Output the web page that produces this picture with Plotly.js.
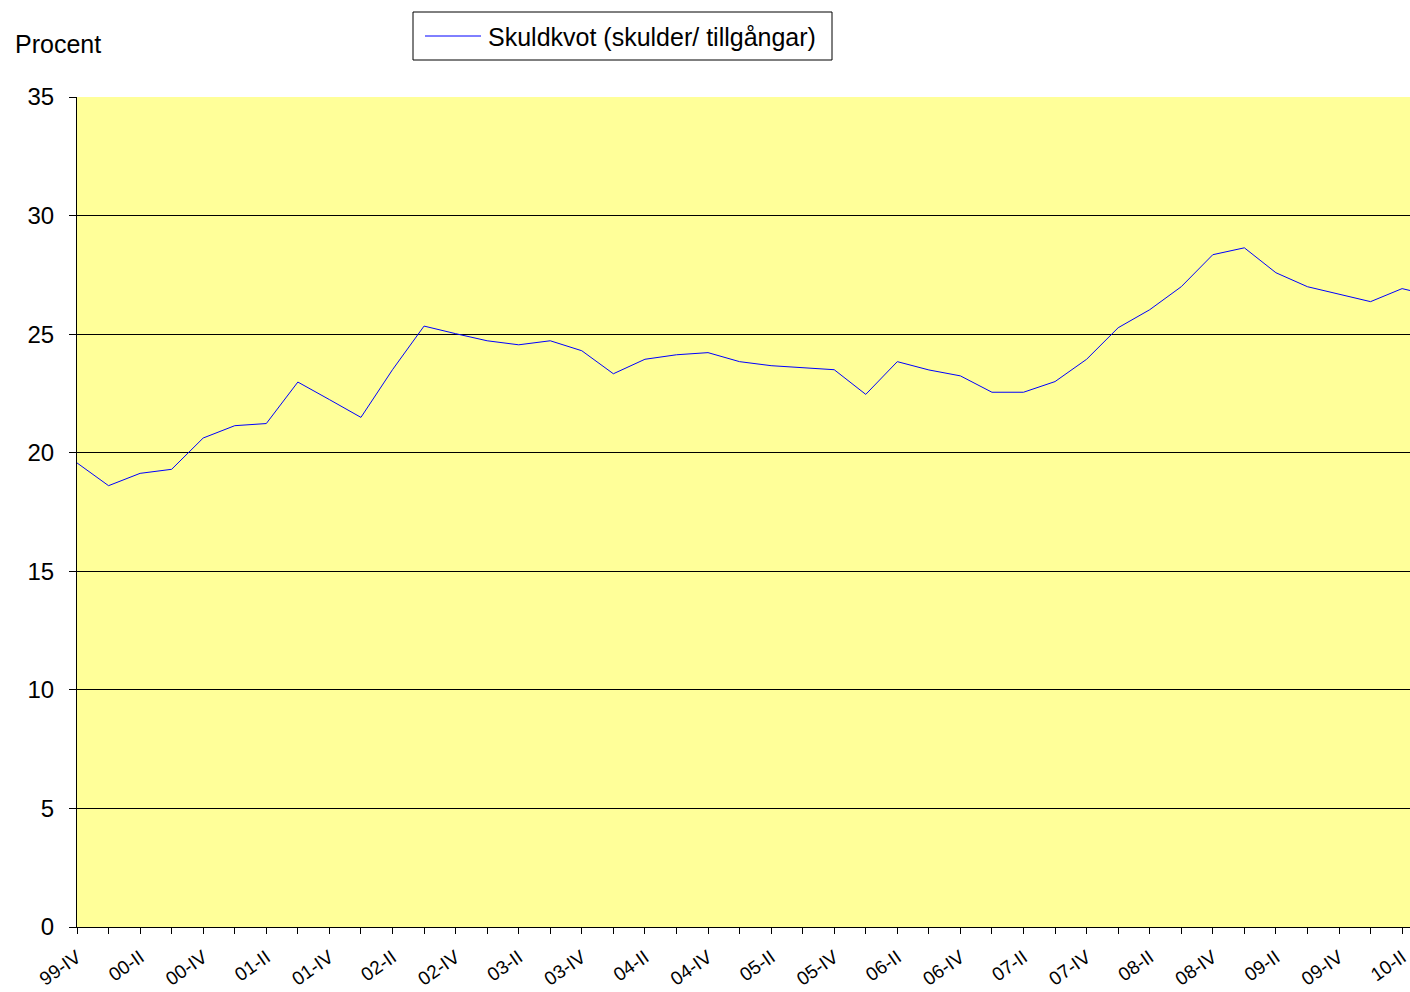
<!DOCTYPE html>
<html>
<head>
<meta charset="utf-8">
<script src="https://cdn.plot.ly/plotly-3.0.1.min.js"></script>
<style>html,body{margin:0;padding:0;background:#fff;}#chart{width:1410px;height:992px;}</style>
</head>
<body>
<div id="chart"></div>
<script>
// Quarters (99-IV ... 10-III)
const quarters = [
  "99-IV",
  "00-I","00-II","00-III","00-IV",
  "01-I","01-II","01-III","01-IV",
  "02-I","02-II","02-III","02-IV",
  "03-I","03-II","03-III","03-IV",
  "04-I","04-II","04-III","04-IV",
  "05-I","05-II","05-III","05-IV",
  "06-I","06-II","06-III","06-IV",
  "07-I","07-II","07-III","07-IV",
  "08-I","08-II","08-III","08-IV",
  "09-I","09-II","09-III","09-IV",
  "10-I","10-II","10-III"
];
// Skuldkvot (skulder/tillgångar), procent
const skuldkvot = [
  19.57,
  18.61, 19.13, 19.30, 20.62,
  21.14, 21.23, 22.98, 22.24,
  21.49, 23.50, 25.34, 25.02,
  24.72, 24.55, 24.72, 24.30,
  23.33, 23.94, 24.13, 24.22,
  23.84, 23.67, 23.59, 23.50,
  22.46, 23.84, 23.49, 23.24,
  22.55, 22.55, 23.00, 23.94,
  25.27, 26.03, 27.00, 28.35,
  28.64, 27.59, 27.00, 26.70,
  26.37, 26.92, 26.60
];
const seriesName = "Skuldkvot (skulder/ tillgångar)";
const yTicks = [0, 5, 10, 15, 20, 25, 30, 35];

const idx = quarters.map((q, i) => i);
const tickText = quarters.map((q, i) => (i % 2 === 0 ? q : ""));

const font = "Liberation Sans, Arial, sans-serif";
const lineColor = "#0000FF";

// pixel -> paper helpers (plot area: x 77..1410, y 97..927)
const px = v => (v - 77) / 1333;
const py = v => (927 - v) / 830;

const trace = {
  x: idx,
  y: skuldkvot,
  type: "scatter",
  mode: "lines",
  name: seriesName,
  line: {color: lineColor, width: 1},
  showlegend: false
};

const layout = {
  width: 1410,
  height: 992,
  margin: {l: 77, r: 0, t: 97, b: 65},
  paper_bgcolor: "#FFFFFF",
  plot_bgcolor: "#FFFF99",
  font: {family: font, color: "#000000"},
  showlegend: false,
  xaxis: {
    range: [0, 42.25],
    tickmode: "array",
    tickvals: idx,
    ticktext: tickText,
    tickangle: -35,
    ticks: "outside",
    ticklen: 6,
    tickcolor: "#000000",
    tickwidth: 1,
    showline: true,
    linecolor: "#000000",
    linewidth: 1,
    showgrid: false,
    zeroline: false,
    ticklabelstandoff: 5,
    ticklabeloverflow: "allow",
    tickfont: {family: font, size: 19, color: "#000000"},
    fixedrange: true
  },
  yaxis: {
    range: [0, 35],
    tickmode: "array",
    tickvals: yTicks,
    ticktext: yTicks.map(String),
    ticks: "outside",
    ticklen: 7,
    tickcolor: "#000000",
    tickwidth: 1,
    showline: true,
    linecolor: "#000000",
    linewidth: 1,
    showgrid: true,
    gridcolor: "#000000",
    gridwidth: 1,
    zeroline: false,
    ticklabelstandoff: 10,
    tickfont: {family: font, size: 24, color: "#000000"},
    fixedrange: true
  },
  shapes: [
    {type: "rect", xref: "paper", yref: "paper",
     x0: px(413), x1: px(832), y0: py(60), y1: py(12),
     line: {color: "#000000", width: 1}, fillcolor: "#FFFFFF", layer: "above"},
    {type: "line", xref: "paper", yref: "paper",
     x0: px(425), x1: px(481), y0: py(36), y1: py(36),
     line: {color: lineColor, width: 1}, layer: "above"}
  ],
  annotations: [
    {text: "Procent", xref: "paper", yref: "paper",
     x: px(13), xanchor: "left", y: py(44), yanchor: "middle",
     showarrow: false, font: {family: font, size: 25, color: "#000000"}},
    {text: seriesName, xref: "paper", yref: "paper",
     x: px(486), xanchor: "left", y: py(37), yanchor: "middle",
     showarrow: false, font: {family: font, size: 25, color: "#000000"}}
  ]
};

Plotly.newPlot("chart", [trace], layout, {displayModeBar: false, staticPlot: true});
</script>
</body>
</html>
